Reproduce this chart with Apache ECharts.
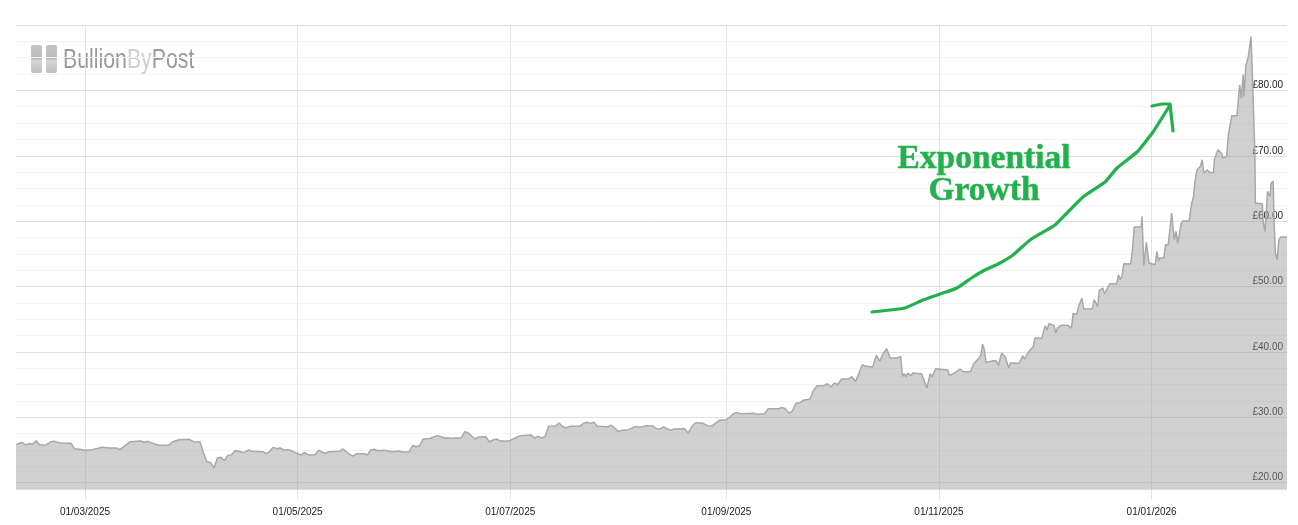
<!DOCTYPE html>
<html>
<head>
<meta charset="utf-8">
<title>Silver price chart</title>
<style>
  html, body { margin: 0; padding: 0; background: #fff; }
  #chart { width: 1298px; height: 525px; }
</style>
<script src="https://cdn.jsdelivr.net/npm/echarts@6/dist/echarts.min.js"></script>
</head>
<body>
<div id="chart"></div>
<script>
// dates and prices
var dates = [
  '2025-02-09 05:00','2025-02-11','2025-02-12','2025-02-13','2025-02-14','2025-02-15','2025-02-16','2025-02-18','2025-02-19','2025-02-20',
  '2025-02-22','2025-02-25','2025-02-26','2025-02-27','2025-03-01','2025-03-03','2025-03-06','2025-03-08','2025-03-10','2025-03-11',
  '2025-03-14','2025-03-17','2025-03-18','2025-03-19','2025-03-22','2025-03-25','2025-03-26','2025-03-28','2025-03-31','2025-04-01',
  '2025-04-03','2025-04-04','2025-04-05','2025-04-06','2025-04-07','2025-04-08','2025-04-09','2025-04-10','2025-04-11','2025-04-12',
  '2025-04-13','2025-04-14','2025-04-15','2025-04-16','2025-04-17','2025-04-18','2025-04-21','2025-04-22','2025-04-23','2025-04-24',
  '2025-04-25','2025-04-26','2025-04-27','2025-04-28','2025-04-29','2025-05-01','2025-05-02','2025-05-03','2025-05-04','2025-05-06',
  '2025-05-07','2025-05-08','2025-05-09','2025-05-10','2025-05-13','2025-05-14','2025-05-16','2025-05-17','2025-05-18','2025-05-20',
  '2025-05-21','2025-05-22','2025-05-23','2025-05-24','2025-05-26','2025-05-28','2025-05-30','2025-05-31','2025-06-02','2025-06-03',
  '2025-06-04','2025-06-05','2025-06-06','2025-06-08','2025-06-09','2025-06-10','2025-06-11','2025-06-12','2025-06-13','2025-06-14',
  '2025-06-17','2025-06-18','2025-06-19','2025-06-20','2025-06-21','2025-06-22','2025-06-24','2025-06-25','2025-06-26','2025-06-27',
  '2025-06-28','2025-06-30','2025-07-01','2025-07-03','2025-07-04','2025-07-07','2025-07-08','2025-07-09','2025-07-10','2025-07-11',
  '2025-07-12','2025-07-14','2025-07-15','2025-07-16','2025-07-17','2025-07-18','2025-07-21','2025-07-22','2025-07-23','2025-07-24',
  '2025-07-25','2025-07-26','2025-07-29','2025-07-30','2025-08-01','2025-08-02','2025-08-04','2025-08-05','2025-08-06','2025-08-07',
  '2025-08-08','2025-08-09','2025-08-11','2025-08-12','2025-08-13','2025-08-14','2025-08-16','2025-08-17','2025-08-20','2025-08-21',
  '2025-08-22','2025-08-23','2025-08-25','2025-08-27','2025-08-28','2025-08-30','2025-09-01','2025-09-02','2025-09-03','2025-09-04',
  '2025-09-05','2025-09-09','2025-09-10','2025-09-12','2025-09-13','2025-09-16','2025-09-17','2025-09-18','2025-09-19','2025-09-20',
  '2025-09-21','2025-09-22','2025-09-23','2025-09-25','2025-09-26','2025-09-27','2025-09-29','2025-09-30','2025-10-01','2025-10-02',
  '2025-10-03','2025-10-04','2025-10-06','2025-10-07','2025-10-08','2025-10-09','2025-10-10','2025-10-11','2025-10-13','2025-10-14',
  '2025-10-15','2025-10-16','2025-10-17','2025-10-18','2025-10-20','2025-10-21','2025-10-21 12:00','2025-10-22','2025-10-22 12:00','2025-10-23',
  '2025-10-24','2025-10-24 12:00','2025-10-27','2025-10-28','2025-10-28 12:00','2025-10-29 12:00','2025-10-30','2025-10-31','2025-11-03 12:00','2025-11-04',
  '2025-11-05','2025-11-06','2025-11-06 12:00','2025-11-07','2025-11-08','2025-11-10','2025-11-11','2025-11-13','2025-11-13 12:00','2025-11-14',
  '2025-11-14 12:00','2025-11-16 12:00','2025-11-17 12:00','2025-11-18','2025-11-19','2025-11-20','2025-11-21','2025-11-21 12:00','2025-11-24','2025-11-25',
  '2025-11-25 12:00','2025-11-27','2025-11-28','2025-11-28 12:00','2025-11-30 12:00','2025-12-01','2025-12-01 12:00','2025-12-02','2025-12-02 12:00','2025-12-04',
  '2025-12-04 12:00','2025-12-05','2025-12-06','2025-12-08','2025-12-09','2025-12-09 12:00','2025-12-10 12:00','2025-12-11','2025-12-12','2025-12-12 12:00',
  '2025-12-15','2025-12-15 12:00','2025-12-16 12:00','2025-12-17','2025-12-18','2025-12-18 12:00','2025-12-20','2025-12-22','2025-12-22 12:00','2025-12-23',
  '2025-12-23 12:00','2025-12-24','2025-12-26','2025-12-26 12:00','2025-12-27','2025-12-29','2025-12-29 06:00','2025-12-29 18:00','2025-12-30 12:00','2025-12-31 06:00',
  '2026-01-02','2026-01-02 12:00','2026-01-03','2026-01-03 06:00','2026-01-04 12:00','2026-01-05','2026-01-05 18:00','2026-01-06 18:00','2026-01-07 12:00','2026-01-08',
  '2026-01-08 12:00','2026-01-09 12:00','2026-01-10','2026-01-11 18:00','2026-01-12 12:00','2026-01-13','2026-01-13 09:00','2026-01-14','2026-01-15','2026-01-15 12:00',
  '2026-01-16','2026-01-17','2026-01-17 12:00','2026-01-18 18:00','2026-01-19','2026-01-20','2026-01-21','2026-01-21 12:00','2026-01-22 12:00','2026-01-23',
  '2026-01-23 12:00','2026-01-24','2026-01-25 12:00','2026-01-26 06:00','2026-01-26 18:00','2026-01-27 06:00','2026-01-27 12:00','2026-01-28','2026-01-28 18:00','2026-01-29 12:00',
  '2026-01-29 18:00','2026-01-30','2026-01-30 15:00','2026-01-30 18:00','2026-02-01 18:00','2026-02-02','2026-02-02 12:00','2026-02-03','2026-02-03 06:00','2026-02-04',
  '2026-02-04 06:00','2026-02-04 21:00','2026-02-05 03:00','2026-02-05 12:00','2026-02-06','2026-02-06 12:00','2026-02-07','2026-02-08 20:00'
];
var prices = [
  25.81,26.17,25.76,25.96,25.91,26.42,25.76,25.81,26.22,26.32,
  26.07,26.01,25.2,25.15,24.94,25.05,25.4,25.3,25.3,25.05,
  26.27,26.37,26.17,26.32,25.71,25.71,26.22,26.57,26.63,26.27,
  26.22,24.54,23.16,23.11,22.24,23.77,23.87,23.36,24.18,24.23,
  24.89,24.84,24.64,24.69,25.0,24.79,24.74,24.43,24.79,25.4,
  25.2,25.3,25.0,25.05,24.94,24.43,24.23,24.64,24.23,24.28,
  24.94,24.69,24.49,24.74,24.79,25.15,24.28,24.08,24.43,24.43,
  24.23,25.0,25.1,24.89,24.94,24.74,24.84,24.69,24.69,25.71,
  25.5,25.66,26.68,26.75,26.98,27.19,27.08,26.83,26.88,26.78,
  26.88,27.8,27.59,27.08,26.68,26.98,27.03,26.22,26.52,26.68,
  26.42,26.32,26.47,26.98,27.19,27.29,26.83,27.08,26.83,27.08,
  28.61,28.66,29.12,28.61,28.36,28.61,28.66,29.07,29.23,29.07,
  29.23,28.61,28.56,28.77,27.85,28.0,28.1,28.36,28.61,28.46,
  28.56,28.72,28.66,28.21,28.21,28.51,28.0,28.21,28.26,27.59,
  28.46,29.12,29.12,28.61,28.72,29.53,29.63,30.04,30.55,30.75,
  30.55,30.6,30.45,30.55,31.31,31.31,31.52,31.26,30.6,31.01,
  32.18,32.18,32.59,32.79,34.12,34.83,34.83,35.14,34.63,35.24,
  34.98,35.85,35.85,36.21,35.44,36.67,38.04,37.79,37.69,39.5,
  38.55,39.73,40.49,39.06,39.06,39.32,36.26,36.67,36.16,36.77,
  36.36,36.77,36.67,35.24,34.47,36.67,36.16,37.43,37.23,36.36,
  36.67,36.97,36.92,37.38,36.97,36.97,38.2,39.42,41.2,40.34,
  38.4,38.65,38.6,37.89,39.83,39.22,37.53,38.3,38.25,39.42,
  38.91,40.23,40.74,42.12,42.07,43.14,44.0,43.29,44.31,44.06,
  42.88,43.65,44.06,44.06,43.65,45.94,45.69,46.86,48.24,46.55,
  46.55,47.98,46.96,49.41,49.77,48.85,50.43,50.43,51.8,51.04,
  51.55,53.49,53.44,55.63,59.09,59.09,60.72,53.18,56.75,53.59,
  53.33,55.37,53.84,54.35,54.35,56.39,56.39,61.23,57.16,58.43,
  56.65,59.7,60.01,60.01,62.76,63.78,65.82,67.86,68.37,69.39,
  67.35,67.86,67.45,67.45,69.39,70.92,70.41,69.64,69.9,73.21,
  73.47,76.12,76.12,80.86,78.82,82.39,79.07,83.66,85.19,88.25,
  84.93,80.6,70.41,62.76,62.66,59.96,58.43,62.25,64.55,63.78,
  65.82,66.08,59.96,55.12,54.1,57.16,57.56,57.56
];
var tickDates = ['2025-03-01','2025-05-01','2025-07-01','2025-09-01','2025-11-01','2026-01-01'];
var priceTicks = [20,30,40,50,60,70,80];

// hand drawn arrow on top of the chart
var arrowStroke = [[872,312],[890,310],[905,308],[923,300],[940,294],[957,288],[973,277],[983,271],[1000,263],[1013,255],[1030,240],[1055,225],[1067,213],[1083,197],[1105,182],[1117,168],[1137,152],[1153,132],[1170,105]];
var arrowHead = [[1152,106],[1162,104],[1170,104],[1173,131]];

function toTime(d) { return +echarts.time.parse(d); }
var seriesData = dates.map(function (d, i) { return [toTime(d), prices[i]]; });
var tickValues = tickDates.map(toTime);
var green = '#22b14c';
var barFill = { type: 'linear', x: 0, y: 0, x2: 0, y2: 1, colorStops: [{ offset: 0, color: '#c4c4c4' }, { offset: 0.5, color: '#bbb' }, { offset: 0.55, color: '#d8d8d8' }, { offset: 1, color: '#bdbdbd' }] };

var chart = echarts.init(document.getElementById('chart'), null, { renderer: 'canvas' });
chart.setOption({
  animation: false,
  backgroundColor: '#fff',
  grid: { left: 16, right: 11, top: 25, height: 474 },
  xAxis: {
    type: 'value',
    min: toTime(dates[0]),
    max: toTime(dates[dates.length - 1]),
    axisLine: { show: false },
    axisTick: { show: false, customValues: tickValues },
    axisLabel: {
      customValues: tickValues,
      margin: 8,
      fontFamily: 'Liberation Sans',
      fontSize: 10,
      color: '#222',
      formatter: function (v) { return echarts.time.format(v, '{dd}/{MM}/{yyyy}', false); }
    },
    splitLine: { show: true, lineStyle: { color: '#e4e4e4', width: 1 } }
  },
  yAxis: {
    type: 'value',
    position: 'right',
    min: 17.5,
    max: 90,
    interval: 2.5,
    axisLine: { show: false },
    axisTick: { show: false },
    axisLabel: {
      inside: true,
      customValues: priceTicks,
      margin: 4,
      fontFamily: 'Liberation Sans',
      fontSize: 10,
      color: '#222',
      verticalAlign: 'bottom',
      formatter: function (v) { return '£' + v.toFixed(2); }
    },
    splitLine: {
      show: true,
      showMinLine: false,
      lineStyle: { color: ['#e0e0e0', '#f4f4f4', '#f4f4f4', '#f4f4f4'], width: 1 }
    }
  },
  series: [{
    type: 'line',
    data: seriesData,
    symbol: 'none',
    lineStyle: { color: '#a8a8a8', width: 1.5 },
    areaStyle: { color: 'rgba(150,150,150,0.45)', opacity: 1, origin: 18.93 },
    z: 2
  }],
  graphic: [
    { type: 'rect', silent: true, shape: { x: 31, y: 45, width: 11, height: 28, r: 2 }, style: { fill: barFill } },
    { type: 'rect', silent: true, shape: { x: 46, y: 45, width: 11, height: 28, r: 2 }, style: { fill: barFill } },
    { type: 'text', silent: true, x: 63, y: 46, scaleX: 0.76,
      style: { text: '{a|Bullion}{b|By}{a|Post}', rich: {
        a: { fill: '#9a9a9a', fontSize: 28, fontFamily: 'Liberation Sans' },
        b: { fill: '#cfcfcf', fontSize: 28, fontFamily: 'Liberation Sans' } } } },
    { type: 'text', silent: true, z: 10, x: 984, y: 159,
      style: { text: 'Exponential', fill: green, stroke: green, lineWidth: 0.5, font: 'bold 33.5px "Liberation Serif"', align: 'center', verticalAlign: 'middle' } },
    { type: 'text', silent: true, z: 10, x: 984, y: 191,
      style: { text: 'Growth', fill: green, stroke: green, lineWidth: 0.5, font: 'bold 33.5px "Liberation Serif"', align: 'center', verticalAlign: 'middle' } },
    { type: 'polyline', silent: true, z: 10, shape: { points: arrowStroke, smooth: 0.15 },
      style: { stroke: green, lineWidth: 3.2, lineCap: 'round', lineJoin: 'round', fill: null } },
    { type: 'polyline', silent: true, z: 10, shape: { points: arrowHead },
      style: { stroke: green, lineWidth: 3.2, lineCap: 'round', lineJoin: 'round', fill: null } }
  ]
});
</script>
</body>
</html>
